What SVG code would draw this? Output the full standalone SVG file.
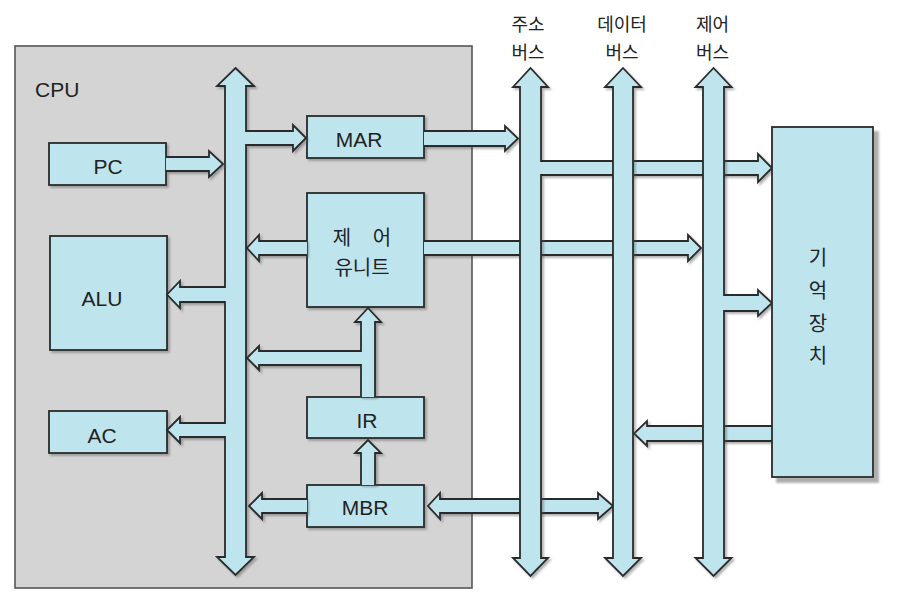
<svg xmlns="http://www.w3.org/2000/svg" width="910" height="606" viewBox="0 0 910 606">
<style>
.bg{fill:#ffffff}
.cpu{fill:#d4d4d4;stroke:#555;stroke-width:1.6}
.box{fill:#bee5ee;stroke:#2a2a2a;stroke-width:1.8;filter:url(#sh)}
.arr{fill:#bee5ee;stroke:#2a2a2a;stroke-width:1.8;stroke-linejoin:miter;filter:url(#sh)}
.lat{font-family:"Liberation Sans",Arial,sans-serif;font-size:21px;fill:#222}
.kor{font-family:"Noto Sans CJK KR","Noto Sans",sans-serif;font-size:20px;fill:#222}
.bl{font-family:"Noto Sans CJK KR","Noto Sans",sans-serif;font-size:18px;fill:#222}
</style>
<defs>
<filter id="sh" x="-10%" y="-10%" width="130%" height="130%">
<feDropShadow dx="2" dy="2" stdDeviation="1.2" flood-color="#555" flood-opacity="0.45"/>
</filter>
<filter id="shm" x="-10%" y="-10%" width="130%" height="130%">
<feDropShadow dx="5" dy="5" stdDeviation="1" flood-color="#777" flood-opacity="0.6"/>
</filter>
</defs>
<rect class="bg" x="0" y="0" width="910" height="606"/>
<g id="cpu">
<rect class="cpu" x="15" y="46" width="457" height="542"/>
<text class="lat" x="35" y="97">CPU</text>
</g>
<g id="pc"><rect class="box" x="49" y="143" width="117" height="42"/><text class="lat" x="108" y="174" text-anchor="middle">PC</text></g>
<g id="alu"><rect class="box" x="50" y="236" width="117" height="114"/><text class="lat" x="102" y="306" text-anchor="middle">ALU</text></g>
<g id="ac"><rect class="box" x="49" y="411" width="118" height="42"/><text class="lat" x="102" y="443" text-anchor="middle">AC</text></g>
<g id="mar"><rect class="box" x="307" y="116" width="117" height="42"/><text class="lat" x="359" y="147" text-anchor="middle">MAR</text></g>
<g id="control-unit"><rect class="box" x="307" y="193" width="117" height="114"/><text class="kor" x="362" y="245" text-anchor="middle" style="word-spacing:17px">제 어</text><text class="kor" x="362" y="275" text-anchor="middle">유니트</text></g>
<g id="ir"><rect class="box" x="307" y="397" width="117" height="41"/><text class="lat" x="367" y="428" text-anchor="middle">IR</text></g>
<g id="mbr"><rect class="box" x="307" y="485" width="117" height="42"/><text class="lat" x="365" y="515" text-anchor="middle">MBR</text></g>
<g id="connectors">
<path id="internal-bus" class="arr" d="M235.5,68 L254,86 L246,86 L246,131 L293,131 L293,125 L306,138 L293,151 L293,145 L246,145 L246,557 L254,557 L235.5,575 L217,557 L225,557 L225,437 L180,437 L180,443 L167,430 L180,417 L180,423 L225,423 L225,302 L180,302 L180,308 L167,294.5 L180,281 L180,287 L225,287 L225,86 L217,86 Z"/>
<path class="arr" d="M166,157 L209,157 L209,151 L223,164 L209,177 L209,171 L166,171"/>
<path class="arr" d="M307,241 L259,241 L259,235 L247,248 L259,261 L259,255 L307,255"/>
<path class="arr" d="M375,397 L375,322 L381,322 L368,308 L355,322 L361,322 L361,351 L259,351 L259,346 L247,358 L259,370 L259,365 L361,365 L361,397"/>
<path class="arr" d="M375,485 L375,453 L381,453 L368,440 L355,453 L361,453 L361,485"/>
<path class="arr" d="M307,499 L262,499 L262,493 L249,506 L262,519 L262,513 L307,513"/>
<path class="arr" d="M424,131 L505,131 L505,126 L518,138.5 L505,151 L505,146 L424,146"/>
<path class="arr" d="M424,241 L688,241 L688,235 L701,248 L688,261 L688,255 L424,255"/>
<path class="arr" d="M440,499 L598,499 L598,493 L613,506 L598,519 L598,513 L440,513 L440,519 L428,506 L440,493 Z"/>
<path class="arr" d="M772,426 L647,426 L647,421 L634,433.5 L647,446 L647,441 L772,441"/>
<path id="address-bus" class="arr" d="M530.5,68 L548,87 L541,87 L541,161 L758,161 L758,154 L772,168 L758,182 L758,175 L541,175 L541,558 L548,558 L530.5,576 L513,558 L520,558 L520,87 L513,87 Z"/>
<path id="data-bus" class="arr" d="M623,68 L641,87 L633,87 L633,558 L641,558 L623,576 L605,558 L613,558 L613,87 L605,87 Z"/>
<path id="control-bus" class="arr" d="M713.5,68 L731.5,87 L724,87 L724,295 L758,295 L758,290 L772,303 L758,316 L758,311 L724,311 L724,558 L731.5,558 L713.5,576 L695.5,558 L703,558 L703,87 L695.5,87 Z"/>
</g>
<g id="bus-labels">
<text class="bl" x="528" y="31" text-anchor="middle">주소</text>
<text class="bl" x="528" y="59" text-anchor="middle">버스</text>
<text class="bl" x="622" y="31" text-anchor="middle">데이터</text>
<text class="bl" x="622" y="59" text-anchor="middle">버스</text>
<text class="bl" x="712.5" y="31" text-anchor="middle">제어</text>
<text class="bl" x="712.5" y="59" text-anchor="middle">버스</text>
</g>
<g id="memory">
<rect x="772" y="127" width="101" height="350" fill="#bee5ee" stroke="#2a2a2a" stroke-width="1.8" filter="url(#shm)"/>
<text class="kor" x="818" y="265" text-anchor="middle">기</text>
<text class="kor" x="818" y="298" text-anchor="middle">억</text>
<text class="kor" x="818" y="331" text-anchor="middle">장</text>
<text class="kor" x="818" y="363" text-anchor="middle">치</text>
</g>
</svg>
